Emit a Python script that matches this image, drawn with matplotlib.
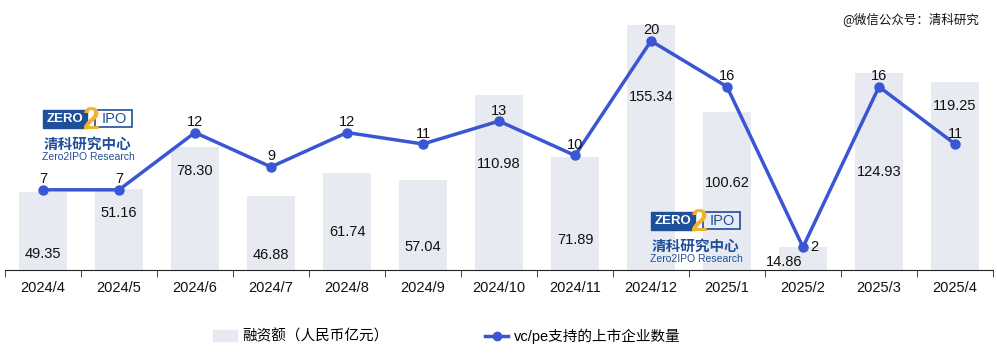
import numpy as np
import matplotlib
matplotlib.use('Agg')
import matplotlib.pyplot as plt
from matplotlib.patches import Rectangle
from matplotlib.lines import Line2D

plt.rcParams['font.family'] = ['Liberation Sans', 'Noto Sans CJK SC', 'DejaVu Sans']

###############################################################################
# Data
###############################################################################
MONTHS = ['2024/4', '2024/5', '2024/6', '2024/7', '2024/8', '2024/9', '2024/10',
          '2024/11', '2024/12', '2025/1', '2025/2', '2025/3', '2025/4']
AMOUNT = [49.35, 51.16, 78.30, 46.88, 61.74, 57.04, 110.98,
          71.89, 155.34, 100.62, 14.86, 124.93, 119.25]
COUNT = [7, 7, 12, 9, 12, 11, 13, 10, 20, 16, 2, 16, 11]
# where the amount labels sit inside the bars (bar-axis units)
LABEL_Y = [10, 36, 63, 9.5, 24, 14.5, 67.5, 19, 110, 55.5, 5, 62.5, 104]

(W, H) = (997, 356)
BAR_C = '#e7eaf0'
LINE_C = '#3a56d4'
LOGO_BLUE = '#1f4e9a'
LOGO_GOLD = '#f0b428'


def fx(x):
    return x / W


def fy(y):
    return 1 - y / H


###############################################################################
# Plot
###############################################################################
fig = plt.figure(figsize=(W / 100, H / 100), dpi=100)
ax = fig.add_axes([fx(5), fy(270), fx(993) - fx(5), fy(18) - fy(270)])
ax2 = ax.twinx()

x = np.arange(len(MONTHS))
ax.bar(x, AMOUNT, width=0.63, color=BAR_C, zorder=1)
ax.set_ylim(0, 160)
ax.set_xlim(-0.5, len(MONTHS) - 0.5)

for (i, (v, ly)) in enumerate(zip(AMOUNT, LABEL_Y)):
    if v < 20:
        ax.text(i - 0.25, ly, '%.2f' % v, ha='center', va='center', fontsize=10.5,
                color='#111111')
    else:
        ax.text(i, ly, '%.2f' % v, ha='center', va='center', fontsize=10.5,
                color='#111111')

ax2.plot(x, COUNT, color=LINE_C, lw=2.5, marker='o', ms=6.5, zorder=3)
ax2.set_ylim(0, 22)
for (i, v) in enumerate(COUNT):
    if v < 4:
        ax2.annotate(str(v), (i, v), xytext=(8, 0), textcoords='offset points',
                     ha='center', va='center', fontsize=10.5, color='#111111')
    else:
        ax2.annotate(str(v), (i, v), xytext=(0, 7.5), textcoords='offset points',
                     ha='center', va='center', fontsize=10.5, color='#111111')

for a in (ax, ax2):
    for s in ('top', 'right', 'left'):
        a.spines[s].set_visible(False)
    a.set_yticks([])
ax.spines['bottom'].set_color('#222222')
ax2.spines['bottom'].set_visible(False)

ax.set_xticks(x)
ax.set_xticklabels(MONTHS, fontsize=10.5, color='#111111')
ax.tick_params(axis='x', which='major', length=0, pad=8)
ax.set_xticks(np.arange(-0.5, len(MONTHS), 1), minor=True)
ax.tick_params(axis='x', which='minor', length=5, color='#222222')


###############################################################################
# Logos / watermark
###############################################################################
def draw_logo(x0, y0):
    # ZERO box
    fig.patches.append(Rectangle((fx(x0), fy(y0 + 18)), fx(44), 18 / H,
                                 transform=fig.transFigure, color=LOGO_BLUE))
    fig.text(fx(x0 + 22), fy(y0 + 9), 'ZERO', color='white', fontsize=9.5,
             fontweight='bold', ha='center', va='center')
    # IPO box
    fig.patches.append(Rectangle((fx(x0 + 52), fy(y0 + 17)), fx(37), 17 / H,
                                 transform=fig.transFigure, fill=False,
                                 ec=LOGO_BLUE, lw=1.2))
    fig.text(fx(x0 + 71), fy(y0 + 9), 'IPO', color=LOGO_BLUE, fontsize=10.5,
             ha='center', va='center')
    fig.text(fx(x0 + 48), fy(y0 + 11), '2', color=LOGO_GOLD, fontsize=22,
             fontweight='bold', ha='center', va='center')
    fig.text(fx(x0 + 45), fy(y0 + 34), '清科研究中心', color=LOGO_BLUE,
             fontsize=10.5, fontweight='bold', ha='center', va='center',
             family=['Noto Sans CJK SC'])
    fig.text(fx(x0 + 45), fy(y0 + 47), 'Zero2IPO Research', color=LOGO_BLUE,
             fontsize=7.5, ha='center', va='center')


draw_logo(43, 110)
draw_logo(651, 212)

fig.text(fx(979), fy(19), '@微信公众号：清科研究', fontsize=9, color='#111111',
         ha='right', va='center', family=['Noto Sans CJK SC', 'DejaVu Sans'])

###############################################################################
# Legend
###############################################################################
handles = [Rectangle((0, 0), 1, 1, color=BAR_C),
           Line2D([], [], color=LINE_C, lw=2.5, marker='o', ms=6)]
fig.legend(handles, ['融资额（人民币亿元）', 'vc/pe支持的上市企业数量'],
           loc='center', bbox_to_anchor=(fx(447), fy(336)), ncol=2,
           frameon=False, fontsize=10.5, columnspacing=6.6, handlelength=1.6,
           handletextpad=0.4)

fig.savefig('out.png', dpi=100)
plt.close('all')
